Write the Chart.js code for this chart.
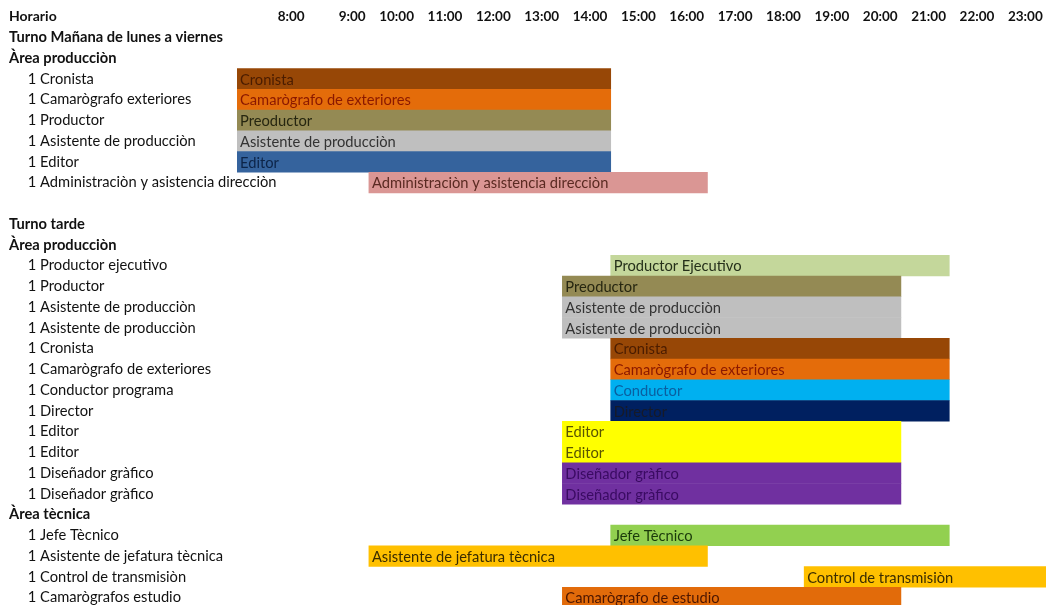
<!DOCTYPE html>
<html lang="es">
<head>
<meta charset="utf-8">
<title>Horario de turnos</title>
<script src="https://cdn.jsdelivr.net/npm/chart.js@4.4.1/dist/chart.umd.min.js"></script>
<style>
  html, body { margin: 0; padding: 0; background: #fff; overflow: hidden; }
  #wrap { position: relative; width: 1050px; height: 608px; }
</style>
</head>
<body>
<div id="wrap"><canvas id="schedule"></canvas></div>
<script>
// Rows of the sheet (first column)
const rowLabels = [
  'Turno Mañana de lunes a viernes',
  'Àrea producciòn',
  '1 Cronista',
  '1 Camarògrafo exteriores',
  '1 Productor',
  '1 Asistente de producciòn',
  '1 Editor',
  '1 Administraciòn y asistencia direcciòn',
  '',
  'Turno tarde',
  'Àrea producciòn',
  '1 Productor ejecutivo',
  '1 Productor',
  '1 Asistente de producciòn',
  '1 Asistente de producciòn',
  '1 Cronista',
  '1 Camarògrafo de exteriores',
  '1 Conductor programa',
  '1 Director',
  '1 Editor',
  '1 Editor',
  '1 Diseñador gràfico',
  '1 Diseñador gràfico',
  'Àrea tècnica',
  '1 Jefe Tècnico',
  '1 Asistente de jefatura tècnica',
  '1 Control de transmisiòn',
  '1 Camarògrafos estudio'
];

// First hour and end hour of each shift (null = no bar on that row)
const shiftStart = [null, null, 8, 8, 8, 8, 8, 10, null, null, null, 15, 14, 14, 14, 15, 15, 15, 15, 14, 14, 14, 14, null, 15, 10, 19, 14];
const shiftEnd   = [null, null, 15, 15, 15, 15, 15, 17, null, null, null, 22, 21, 21, 21, 22, 22, 22, 22, 21, 21, 21, 21, null, 22, 17, 24, 21];

// Text written inside each bar
const barText = [
  null, null,
  'Cronista', 'Camarògrafo de exteriores', 'Preoductor', 'Asistente de producciòn', 'Editor',
  'Administraciòn y asistencia direcciòn',
  null, null, null,
  'Productor Ejecutivo', 'Preoductor', 'Asistente de producciòn', 'Asistente de producciòn',
  'Cronista', 'Camarògrafo de exteriores', 'Conductor', 'Director', 'Editor', 'Editor',
  'Diseñador gràfico', 'Diseñador gràfico',
  null,
  'Jefe Tècnico', 'Asistente de jefatura tècnica', 'Control de transmisiòn', 'Camarògrafo de estudio'
];

// Header row hours
const hours = [8, 9, 10, 11, 12, 13, 14, 15, 16, 17, 18, 19, 20, 21, 22, 23];
const headerCell = 'Horario';

// Cell fill and text colours
const barColors = [
  null, null, '#974706', '#E46C0A', '#948A54', '#BFBFBF', '#35639D', '#DA9694', null, null, null,
  '#C4D79B', '#948A54', '#BFBFBF', '#BFBFBF', '#974706', '#E46C0A', '#00B0F0', '#002060',
  '#FFFF00', '#FFFF00', '#7030A0', '#7030A0', null, '#92D050', '#FFC000', '#FFC000', '#E26B0A'
];
const textColors = [
  null, null, '#4a1c00', '#8a1800', '#262610', '#333333', '#0c2448', '#5a2a22', null, null, null,
  '#25301a', '#262610', '#333333', '#333333', '#4a1c00', '#8a1800', '#0a5fa0', '#161a28',
  '#5a5500', '#5a5500', '#3a0b62', '#3a0b62', null, '#1a3a0a', '#3a2c00', '#3a2c00', '#4d1600'
];

// spreadsheet column widths (8:00 and 9:00 are wider)
const colWidths = [71, 61, 48.4, 48.4, 48.4, 48.4, 48.4, 48.4, 48.4, 48.4, 48.4, 48.4, 48.4, 48.4, 48.4, 48.4];
const FONT = 'Lato';
const TEXT_SIZE = 14.7;
const INDENT = '     ';
const X_PAD = 2;
const Y_WIDTH = 228;

const isHeader = s => s !== '' && !/^\d/.test(s);

// Linear scale whose hour columns have their own widths, like the sheet
class ColumnScale extends Chart.LinearScale {
  static id = 'columns';
  static defaults = {};

  _frac(v) {
    const total = colWidths.reduce((a, b) => a + b, 0);
    let acc = 0;
    for (let i = 0; i < colWidths.length; i++) {
      const from = this.min + i;
      if (v <= from + 1) return (acc + colWidths[i] * (v - from)) / total;
      acc += colWidths[i];
    }
    return 1;
  }

  getPixelForValue(value) {
    if (value === null || isNaN(value)) return NaN;
    return this.getPixelForDecimal(this._frac(value));
  }

  getValueForPixel(pixel) {
    const total = colWidths.reduce((a, b) => a + b, 0);
    let d = this.getDecimalForPixel(pixel) * total;
    for (let i = 0; i < colWidths.length; i++) {
      if (d <= colWidths[i]) return this.min + i + d / colWidths[i];
      d -= colWidths[i];
    }
    return this.max;
  }
}
Chart.register(ColumnScale);

// Bar captions and the "Horario" cell
const sheetText = {
  id: 'sheetText',
  afterDatasetsDraw(chart) {
    const ctx = chart.ctx;
    const meta = chart.getDatasetMeta(0);
    ctx.save();
    ctx.textBaseline = 'middle';
    ctx.textAlign = 'left';
    ctx.font = TEXT_SIZE + 'px ' + FONT;
    meta.data.forEach((bar, i) => {
      if (shiftStart[i] == null || !barText[i]) return;
      ctx.fillStyle = textColors[i];
      ctx.fillText(barText[i], Math.min(bar.x, bar.base) + 3, bar.y + 1);
    });
    const xs = chart.scales.x;
    ctx.font = 'bold 14px ' + FONT;
    ctx.fillStyle = '#111';
    ctx.fillText(headerCell, chart.chartArea.left - Y_WIDTH, xs.bottom - X_PAD - 8.1);
    ctx.restore();
  }
};

function initializeSchedule() {
  const ctx = document.getElementById('schedule');
  if (!ctx) return;

  new Chart(ctx, {
    type: 'bar',
    data: {
      labels: rowLabels,
      datasets: [{
        data: rowLabels.map((_, i) => shiftStart[i] == null ? null : [shiftStart[i], shiftEnd[i]]),
        backgroundColor: barColors.map(c => c || 'rgba(0,0,0,0)'),
        borderWidth: 0,
        barPercentage: 1,
        categoryPercentage: 1
      }]
    },
    options: {
      indexAxis: 'y',
      responsive: true,
      maintainAspectRatio: false,
      animation: false,
      events: [],
      layout: { padding: { left: 9, right: 4, top: 0, bottom: 0 } },
      plugins: {
        legend: { display: false },
        tooltip: { enabled: false }
      },
      scales: {
        x: {
          type: 'columns',
          position: 'top',
          min: hours[0],
          max: hours[hours.length - 1] + 1,
          grid: { display: false, drawTicks: false },
          border: { display: false },
          afterBuildTicks: scale => {
            scale.ticks = hours.map(h => ({ value: h + 1 }));
          },
          afterFit: scale => { scale.height = 27; },
          ticks: {
            align: 'end',
            autoSkip: false,
            maxRotation: 0,
            padding: X_PAD,
            color: '#111',
            font: { family: FONT, size: 13.5, weight: 'bold' },
            // trailing space keeps the label off the cell border
            callback: v => (v - 1) + ':00 '
          }
        },
        y: {
          grid: { display: false, drawTicks: false },
          border: { display: false },
          afterFit: scale => { scale.width = Y_WIDTH; },
          ticks: {
            // mirrored so long labels are not clipped at the axis edge
            mirror: true,
            padding: -Y_WIDTH,
            autoSkip: false,
            color: '#111',
            font: c => ({ family: FONT, size: TEXT_SIZE, weight: isHeader(rowLabels[c.index] || '') ? 'bold' : 'normal' }),
            callback: (v, i) => isHeader(rowLabels[i]) ? rowLabels[i] : INDENT + rowLabels[i]
          }
        }
      }
    },
    plugins: [sheetText]
  });
}

document.addEventListener('DOMContentLoaded', () => {
  initializeSchedule();
});
</script>
</body>
</html>
